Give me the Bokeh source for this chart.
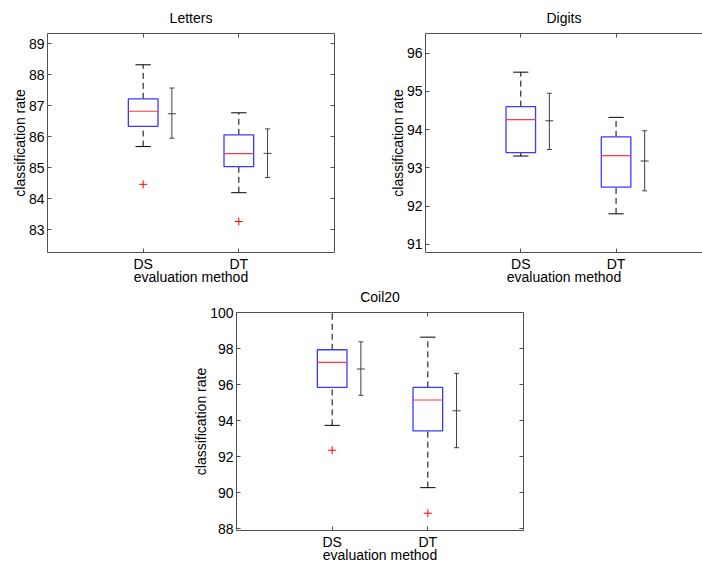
from bokeh.plotting import figure
from bokeh.models import FixedTicker, LinearAxis, Spacer, TeeHead, Whisker, ColumnDataSource
from bokeh.layouts import row, column
from bokeh.embed import file_html
from bokeh.resources import INLINE

# ---------------- data ----------------
methods = ["DS", "DT"]
positions = [1, 2]

letters_low = [85.68, 84.19]
letters_q1 = [86.33, 85.03]
letters_med = [86.82, 85.45]
letters_q3 = [87.22, 86.06]
letters_high = [88.32, 86.77]
letters_out_x = [1, 2]
letters_out_y = [84.46, 83.26]
letters_mean = [86.74, 85.46]
letters_err_low = [85.95, 84.68]
letters_err_high = [87.57, 86.25]
letters_yticks = [83, 84, 85, 86, 87, 88, 89]

digits_low = [93.31, 91.80]
digits_q1 = [93.40, 92.50]
digits_med = [94.26, 93.32]
digits_q3 = [94.60, 93.81]
digits_high = [95.50, 94.32]
digits_out_x = []
digits_out_y = []
digits_mean = [94.23, 93.18]
digits_err_low = [93.48, 92.40]
digits_err_high = [94.95, 93.97]
digits_yticks = [91, 92, 93, 94, 95, 96]

coil_low = [93.73, 90.27]
coil_q1 = [95.84, 93.42]
coil_med = [97.23, 95.14]
coil_q3 = [97.93, 95.84]
coil_high = [100.0, 98.63]
coil_out_x = [1, 2]
coil_out_y = [92.35, 88.85]
coil_mean = [96.86, 94.54]
coil_err_low = [95.40, 92.49]
coil_err_high = [98.37, 96.62]
coil_yticks = [88, 90, 92, 94, 96, 98, 100]

FONT = "Liberation Sans"
FS = "14px"
AXC = "#505050"
TXT = "#000000"


def style_axis(ax, ticks, labels=True, label_standoff=-6):
    ax.major_tick_in = 4
    ax.major_tick_out = 0
    ax.minor_tick_line_color = None
    ax.axis_line_color = AXC
    ax.major_tick_line_color = AXC
    ax.major_label_text_font = FONT
    ax.major_label_text_color = TXT
    ax.major_label_text_font_size = FS
    ax.axis_label_text_font = FONT
    ax.axis_label_text_font_size = FS
    ax.axis_label_text_font_style = "normal"
    ax.axis_label_text_color = TXT
    ax.axis_label_standoff = label_standoff
    if labels:
        ax.major_label_standoff = 3
    else:
        ax.major_label_overrides = {t: "" for t in ticks}
        ax.major_label_standoff = 0


def panel(title, yr, yticks, low, q1, med, q3, high, ox, oy, mean, elo, ehi,
          width, height, mbl, mbr, mbt, mbb, xend=3.0, right_axis=True,
          margin=None, transparent=False):
    kw = {}
    if margin is not None:
        kw["margin"] = margin
    p = figure(width=width, height=height, x_range=(0, xend), y_range=yr,
               output_backend="svg", toolbar_location=None,
               min_border_left=mbl, min_border_right=mbr, min_border_top=mbt,
               min_border_bottom=mbb, **kw)
    if transparent:
        p.border_fill_color = None
    p.outline_line_color = None
    p.xgrid.visible = False
    p.ygrid.visible = False

    p.xaxis.ticker = FixedTicker(ticks=positions)
    p.xaxis.axis_label = "evaluation method"
    p.yaxis.ticker = FixedTicker(ticks=yticks)
    p.yaxis.axis_label = "classification rate"
    style_axis(p.xaxis[0], positions, label_standoff=-6)
    style_axis(p.yaxis[0], yticks, label_standoff=-2)
    p.xaxis.major_label_overrides = {positions[i]: methods[i] for i in range(len(methods))}

    # top axis carries the panel title as its label
    top = LinearAxis(ticker=FixedTicker(ticks=positions), axis_label=title)
    style_axis(top, positions, labels=False, label_standoff=8)
    p.add_layout(top, "above")
    if right_axis:
        r = LinearAxis(ticker=FixedTicker(ticks=yticks))
        style_axis(r, yticks, labels=False)
        p.add_layout(r, "right")

    bw = 0.31
    cw = 0.08
    xs = positions
    # whiskers (dashed)
    p.segment(x0=xs, y0=q3, x1=xs, y1=high, line_color="#000000", line_dash="6 4", line_width=1)
    p.segment(x0=xs, y0=low, x1=xs, y1=q1, line_color="#000000", line_dash="6 4", line_width=1)
    # whisker caps
    p.segment(x0=[x - cw for x in xs], y0=high, x1=[x + cw for x in xs], y1=high,
              line_color="#000000", line_width=1)
    p.segment(x0=[x - cw for x in xs], y0=low, x1=[x + cw for x in xs], y1=low,
              line_color="#000000", line_width=1)
    # boxes
    p.quad(left=[x - bw / 2 for x in xs], right=[x + bw / 2 for x in xs], bottom=q1, top=q3,
           fill_color=None, line_color="#3a3aff", line_width=1.3)
    # medians
    p.segment(x0=[x - bw / 2 for x in xs], y0=med, x1=[x + bw / 2 for x in xs], y1=med,
              line_color="#ff3a3a", line_width=1.2)
    # outliers
    if ox:
        p.scatter(x=ox, y=oy, marker="cross", size=8, line_color="#ff0000", line_width=1)
    # error bars (mean +/- error) offset to the right
    ex = [x + 0.3 for x in xs]
    src = ColumnDataSource(dict(x=ex, lo=elo, hi=ehi, m=mean))
    w = Whisker(base="x", lower="lo", upper="hi", source=src, line_color="#404040", line_width=1,
                upper_head=TeeHead(size=5, line_color="#404040", line_width=1),
                lower_head=TeeHead(size=5, line_color="#404040", line_width=1))
    p.add_layout(w)
    p.scatter(x="x", y="m", source=src, marker="dash", size=8, line_color="#404040", line_width=1)
    return p


p1 = panel("Letters", (82.26, 89.33), letters_yticks, letters_low, letters_q1, letters_med,
           letters_q3, letters_high, letters_out_x, letters_out_y, letters_mean,
           letters_err_low, letters_err_high,
           width=358, height=287, mbl=47, mbr=24, mbt=33, mbb=35)
p2 = panel("Digits", (90.79, 96.51), digits_yticks, digits_low, digits_q1, digits_med,
           digits_q3, digits_high, digits_out_x, digits_out_y, digits_mean,
           digits_err_low, digits_err_high,
           width=344, height=287, mbl=67, mbr=0, mbt=33, mbb=35, xend=2.907,
           right_axis=False)
p3 = panel("Coil20", (87.89, 100.0), coil_yticks, coil_low, coil_q1, coil_med,
           coil_q3, coil_high, coil_out_x, coil_out_y, coil_mean,
           coil_err_low, coil_err_high,
           width=367, height=286, mbl=60, mbr=20, mbt=33, mbb=35, transparent=True)

layout = column(row(p1, p2),
                row(Spacer(width=176, height=10), p3, margin=(-8, 0, 0, 0)))

open("out.html", "w").write(file_html(layout, INLINE))
